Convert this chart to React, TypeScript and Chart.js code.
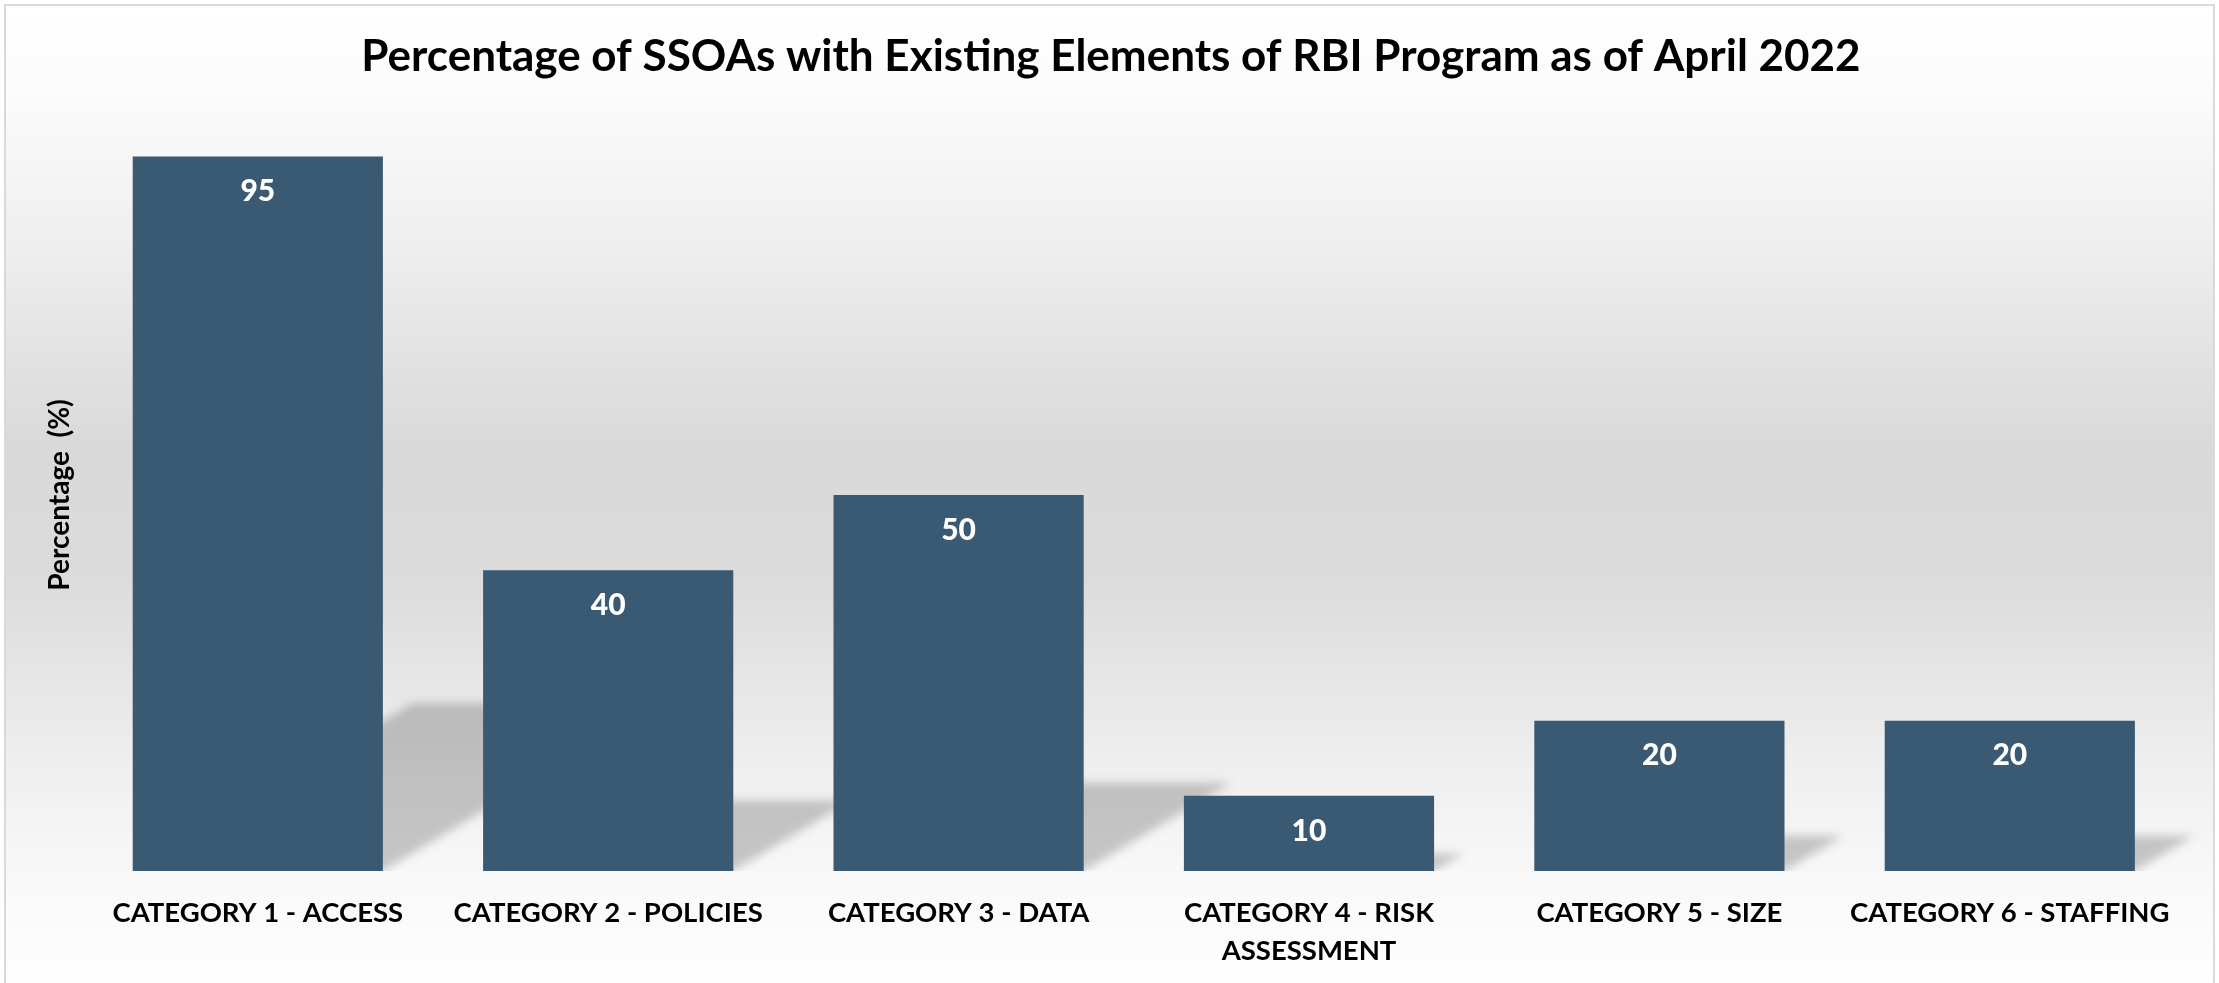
import React, { useEffect, useRef } from "react";
import { Chart, registerables } from "chart.js";

Chart.register(...registerables);

const categories: (string | string[])[] = [
  "CATEGORY 1 - ACCESS",
  "CATEGORY 2 - POLICIES",
  "CATEGORY 3 - DATA",
  ["CATEGORY 4 - RISK", "ASSESSMENT"],
  "CATEGORY 5 - SIZE",
  "CATEGORY 6 - STAFFING",
];
const percentages = [95, 40, 50, 10, 20, 20];
const chartTitle =
  "Percentage of SSOAs with Existing Elements of RBI Program as of April 2022";
const yAxisTitle = "Percentage  (%)";
const yMin = 0;
const yMax = 100;

const FONT = "Lato, 'Open Sans', sans-serif";
const BAR_COLOR = "#3A5A73";

const backgroundPlugin = {
  id: "bgPanel",
  beforeDraw(chart: any) {
    const ctx = chart.ctx as CanvasRenderingContext2D;
    const w = chart.width;
    const h = chart.height;
    ctx.save();
    ctx.fillStyle = "#ffffff";
    ctx.fillRect(0, 0, w, h);
    const g = ctx.createLinearGradient(0, 6, 0, h);
    g.addColorStop(0, "#ffffff");
    g.addColorStop(0.08, "#fcfcfc");
    g.addColorStop(0.25, "#eeeeee");
    g.addColorStop(0.45, "#d9d9d9");
    g.addColorStop(0.58, "#dbdbdb");
    g.addColorStop(0.78, "#efefef");
    g.addColorStop(0.9, "#f9f9f9");
    g.addColorStop(1, "#fefefe");
    ctx.fillStyle = g;
    ctx.fillRect(5, 5, w - 10, h);
    ctx.strokeStyle = "#d9d9d9";
    ctx.lineWidth = 2;
    ctx.strokeRect(5, 5, w - 10, h + 10);
    ctx.restore();
  },
};

const shadowPlugin = {
  id: "barShadows",
  beforeDatasetsDraw(chart: any) {
    const ctx = chart.ctx as CanvasRenderingContext2D;
    const meta = chart.getDatasetMeta(0);
    ctx.save();
    ctx.beginPath();
    ctx.rect(0, 0, chart.width, chart.chartArea.bottom);
    ctx.clip();
    ctx.filter = "blur(5px)";
    ctx.fillStyle = "rgba(0,0,0,0.2)";
    meta.data.forEach((el: any) => {
      const p = el.getProps(["x", "y", "base", "width"], true);
      const h = p.base - p.y;
      const sh = 0.235 * h;
      const s = sh / 0.6;
      const L = p.x - p.width / 2;
      const R = p.x + p.width / 2;
      ctx.beginPath();
      ctx.moveTo(L, p.base);
      ctx.lineTo(R, p.base);
      ctx.lineTo(R + s, p.base - sh);
      ctx.lineTo(L + s, p.base - sh);
      ctx.closePath();
      ctx.fill();
    });
    ctx.restore();
  },
};

const valueLabelPlugin = {
  id: "valueLabels",
  afterDatasetsDraw(chart: any) {
    const ctx = chart.ctx as CanvasRenderingContext2D;
    const meta = chart.getDatasetMeta(0);
    const values = chart.data.datasets[0].data as number[];
    ctx.save();
    ctx.fillStyle = "#ffffff";
    ctx.font = `900 30px ${FONT}`;
    ctx.textAlign = "center";
    ctx.textBaseline = "middle";
    meta.data.forEach((el: any, i: number) => {
      const p = el.getProps(["x", "y"], true);
      ctx.fillText(String(values[i]), p.x, p.y + 35);
    });
    ctx.restore();
  },
};

export default function App() {
  const canvasRef = useRef<HTMLCanvasElement | null>(null);

  useEffect(() => {
    if (!canvasRef.current) return;
    const chart = new Chart(canvasRef.current, {
      type: "bar",
      data: {
        labels: categories,
        datasets: [
          {
            data: percentages,
            backgroundColor: BAR_COLOR,
            borderWidth: 0,
            categoryPercentage: 1,
            barPercentage: 0.714,
          },
        ],
      },
      options: {
        animation: false,
        responsive: false,
        maintainAspectRatio: false,
        layout: { padding: { left: 37, right: 34, top: 10, bottom: -10 } },
        plugins: {
          legend: { display: false },
          tooltip: { enabled: false },
          title: {
            display: true,
            text: chartTitle,
            color: "#000000",
            font: { family: FONT, size: 44, weight: "bold" },
            padding: { top: 20, bottom: 36 },
          },
        },
        scales: {
          x: {
            grid: { display: false, drawTicks: false },
            border: { display: false },
            ticks: {
              color: "#000000",
              font: { family: FONT, size: 27.5, weight: "bold", lineHeight: 1.38 },
              padding: 23,
              autoSkip: false,
              maxRotation: 0,
              minRotation: 0,
            },
          },
          y: {
            min: yMin,
            max: yMax,
            grid: { display: false, drawTicks: false },
            border: { display: false },
            ticks: { display: false },
            title: {
              display: true,
              text: yAxisTitle,
              color: "#000000",
              font: { family: FONT, size: 28, weight: "bold" },
              padding: { top: 6, bottom: 6 },
            },
          },
        },
      } as any,
      plugins: [backgroundPlugin, shadowPlugin, valueLabelPlugin],
    });
    return () => chart.destroy();
  }, []);

  return (
    <div style={{ position: "fixed", left: 0, top: 0, width: 2219, height: 983 }}>
      <canvas ref={canvasRef} width={2219} height={983} />
    </div>
  );
}
